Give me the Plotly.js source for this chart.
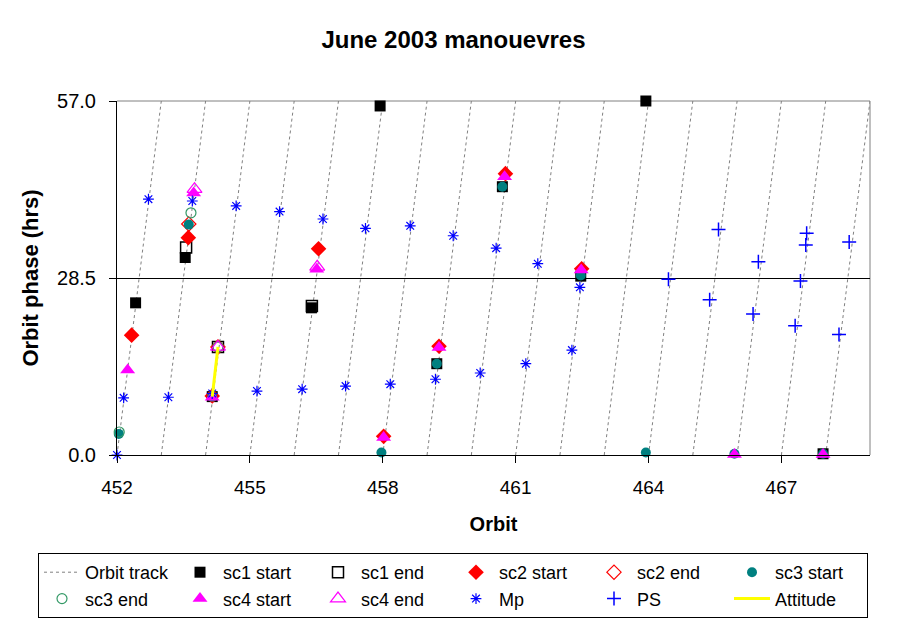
<!DOCTYPE html>
<html>
<head>
<meta charset="utf-8">
<script src="https://cdn.plot.ly/plotly-3.0.1.min.js"></script>
<style>html,body{margin:0;padding:0;background:#fff;}#chart{width:907px;height:621px;}</style>
</head>
<body>
<div id="chart"></div>
<script>
// ---- data ----
const trackStartOrbit = [452,453,454,455,456,457,458,459,460,461,462,463,464,465,466,467,468];
const trackEndOrbit   = [453,454,455,456,457,458,459,460,461,462,463,464,465,466,467,468,469];
const trackStartPhase = 0;
const trackEndPhase = 57;

const sc1StartX = [452.42,453.54,454.15,456.39,457.94,459.22,460.70,462.47,463.94,467.94];
const sc1StartY = [24.5,31.8,9.4,23.7,56.2,14.7,43.2,28.8,57.0,0.2];
const sc1EndX = [453.56,454.28,456.40];
const sc1EndY = [33.4,17.4,24.0];
const sc2StartX = [452.33,453.61,454.15,456.55,458.02,459.27,460.77,462.49];
const sc2StartY = [19.3,35.0,9.5,33.2,3.0,17.5,45.3,30.0];
const sc2EndX = [453.62,454.28];
const sc2EndY = [37.2,17.4];
const sc3StartX = [452.04,453.62,454.15,457.97,459.22,460.70,462.47,463.94,465.94,467.94];
const sc3StartY = [3.4,37.1,9.4,0.4,14.7,43.2,28.9,0.4,0.2,0.2];
const sc3EndX = [452.05,453.67,454.28];
const sc3EndY = [3.7,39.0,17.4];
const sc4StartX = [452.24,453.73,454.15,456.51,458.02,459.27,460.75,462.48,465.94,467.94];
const sc4StartY = [13.7,42.2,9.3,29.9,2.8,17.3,44.8,29.8,0.1,0.1];
const sc4EndX = [453.75,454.28,456.52];
const sc4EndY = [42.8,17.4,30.3];
const mpX = [452.00,452.15,452.71,453.16,453.70,454.15,454.69,455.16,455.67,456.18,456.65,457.16,457.61,458.17,458.62,459.19,459.59,460.20,460.56,461.23,461.50,462.27,462.45];
const mpY = [0.0,9.2,41.2,9.3,40.9,9.9,40.1,10.3,39.2,10.6,38.0,11.1,36.5,11.4,36.9,12.2,35.3,13.2,33.3,14.7,30.8,16.9,27.0];
const psX = [464.45,465.38,465.58,466.36,466.48,467.31,467.43,467.55,467.57,468.30,468.53];
const psY = [28.3,25.0,36.3,22.7,31.1,20.8,28.0,33.8,35.7,19.4,34.3];
const attitudeX = [454.15,454.28];
const attitudeY = [9.4,17.4];

const yTicks = [0, 28.5, 57];

// ---- build orbit track polyline with gaps ----
const trX = [], trY = [];
for (let i = 0; i < trackStartOrbit.length; i++) {
  trX.push(trackStartOrbit[i], trackEndOrbit[i], null);
  trY.push(trackStartPhase, trackEndPhase, null);
}

const FONT = 'Liberation Sans, Arial, sans-serif';
function mk(name, x, y, symbol, color, size, lw, lc) {
  return {type:'scatter', mode:'markers', name, x, y, cliponaxis:false,
    marker:{symbol, color, size, line:{width:lw||0, color:lc||color}}};
}

const traces = [
  {type:'scatter', mode:'lines', name:'Orbit track', x:trX, y:trY,
   line:{color:'#808080', width:1, dash:'3px,3px'}, connectgaps:false},
  mk('sc1 start', sc1StartX, sc1StartY, 'square', '#000000', 11),
  mk('sc1 end', sc1EndX, sc1EndY, 'square-open', '#000000', 11, 1.5),
  mk('sc2 start', sc2StartX, sc2StartY, 'diamond', '#FF0000', 12),
  mk('sc2 end', sc2EndX, sc2EndY, 'diamond-open', '#FF0000', 11, 1.2),
  mk('sc3 start', sc3StartX, sc3StartY, 'circle', '#008080', 10),
  mk('sc3 end', sc3EndX, sc3EndY, 'circle-open', '#339966', 10, 1.2),
  mk('sc4 start', sc4StartX, sc4StartY, 'triangle-up', '#FF00FF', 13),
  mk('sc4 end', sc4EndX, sc4EndY, 'triangle-up-open', '#FF00FF', 13, 1.2),
  mk('Mp', mpX, mpY, 'asterisk-open', '#0000FF', 9, 1.2),
  mk('PS', psX, psY, 'cross-thin-open', '#0000FF', 10, 1.5),
  {type:'scatter', mode:'lines', name:'Attitude', x:attitudeX, y:attitudeY,
   line:{color:'#FFFF00', width:3}}
];

const layout = {
  width:907, height:621,
  margin:{l:117, r:37, t:101, b:166, pad:0, autoexpand:false},
  paper_bgcolor:'#fff', plot_bgcolor:'#fff',
  font:{family:FONT, color:'#000', size:18},
  title:{text:'June 2003 manouevres', font:{family:FONT, size:24, weight:'bold', color:'#000'},
    x:0.5, xref:'container', y:1-40/621, yref:'container', yanchor:'middle'},
  xaxis:{range:[452,469], tick0:452, dtick:3, showgrid:false, zeroline:false, automargin:false,
    showline:true, linecolor:'#000', linewidth:1, ticks:'outside', ticklen:7, tickcolor:'#000',
    tickfont:{family:FONT, size:19}, ticklabelstandoff:8,
    title:{text:'Orbit', font:{family:FONT, size:20, weight:'bold'}, standoff:20}},
  yaxis:{range:[0,57], tickvals:yTicks, tickformat:'.1f', showgrid:true, gridcolor:'#000', gridwidth:1,
    zeroline:false, showline:true, linecolor:'#000', linewidth:1, ticks:'outside', ticklen:7, tickcolor:'#000',
    automargin:false, tickfont:{family:FONT, size:20}, ticklabelstandoff:9,
    title:{text:'Orbit phase (hrs)', font:{family:FONT, size:22, weight:'bold'}, standoff:12}},
  showlegend:true,
  legend:{orientation:'h', x:(38-117)/753, xanchor:'left', y:(455-553)/354, yanchor:'top',
    bordercolor:'#000', borderwidth:1, bgcolor:'#fff',
    font:{family:FONT, size:18}, entrywidth:87, itemwidth:36, traceorder:'normal'},
  shapes:[
    {type:'line', xref:'paper', yref:'paper', x0:0, x1:1, y0:1, y1:1, line:{color:'#808080', width:1}, layer:'between'},
    {type:'line', xref:'paper', yref:'paper', x0:1, x1:1, y0:0, y1:1, line:{color:'#808080', width:1}, layer:'between'}
  ]
};

Plotly.newPlot('chart', traces, layout, {displayModeBar:false, staticPlot:true});
</script>
</body>
</html>
